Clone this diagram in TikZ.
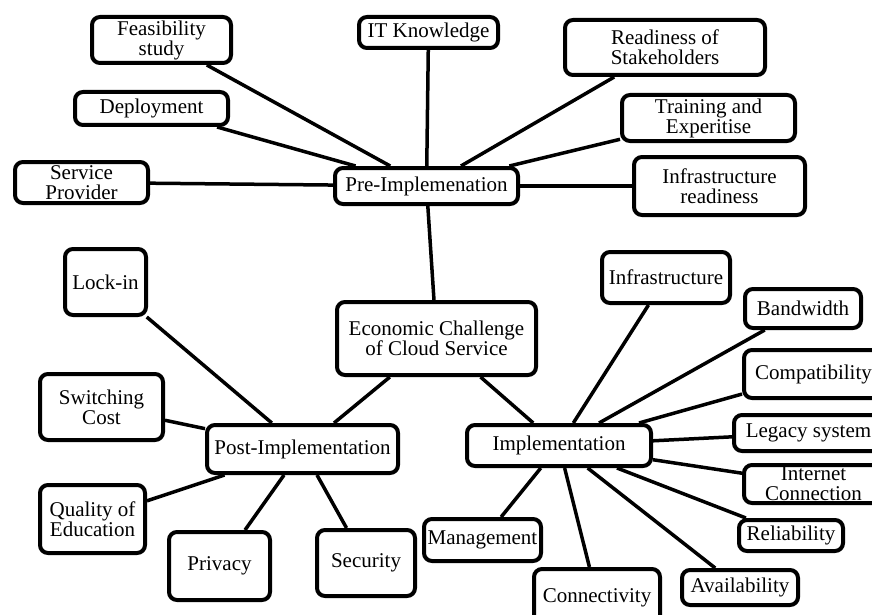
\documentclass[tikz,border=0pt]{standalone}
\usepackage{fontspec}
\setmainfont{Liberation Serif}

\begin{document}
\begin{tikzpicture}[x=1pt,y=-1pt,
  box/.style={draw,line width=4pt,rounded corners=8pt,fill=white,align=center,
    inner sep=0pt,font=\fontsize{21}{20}\selectfont},
  link/.style={line width=3.5pt}]
  \path[use as bounding box,clip] (0,0) rectangle (872,615);
  % pre-implementation group
  \node[box,minimum width=183pt,minimum height=36pt] (pre) at (426.5,186) {Pre-Implemenation};
  \node[box,minimum width=139pt,minimum height=46pt] (feas) at (161.5,40) {Feasibility\\study};
  \node[box,minimum width=153pt,minimum height=33pt] (deploy) at (151.5,108.5) {Deployment};
  \node[box,minimum width=133pt,minimum height=41pt] (provider) at (81.5,182.5) {Service\\Provider};
  \node[box,minimum width=139pt,minimum height=31pt] (itknow) at (428.5,32.5) {IT Knowledge};
  \node[box,minimum width=200pt,minimum height=55pt] (ready) at (665,47.5) {Readiness of\\Stakeholders};
  \node[box,minimum width=173pt,minimum height=46pt] (train) at (708.5,118) {Training and\\Experitise};
  \node[box,minimum width=171pt,minimum height=58pt] (infready) at (719.5,186) {Infrastructure\\readiness};
  % centre
  \node[box,minimum width=199pt,minimum height=73pt] (econ) at (436.5,338.5) {Economic Challenge\\of Cloud Service};
  % post-implementation group
  \node[box,minimum width=191pt,minimum height=48pt] (post) at (302.5,449) {Post-Implementation};
  \node[box,minimum width=81pt,minimum height=66pt] (lockin) at (105.5,282) {Lock-in};
  \node[box,minimum width=123pt,minimum height=66pt] (switch) at (101.5,407) {Switching\\Cost};
  \node[box,minimum width=105pt,minimum height=68pt] (quality) at (92.5,519) {Quality of\\Education};
  \node[box,minimum width=101pt,minimum height=68pt] (privacy) at (219.5,566) {Privacy};
  \node[box,minimum width=98pt,minimum height=66pt] (security) at (366,563) {Security};
  % implementation group
  \node[box,minimum width=184pt,minimum height=41pt] (impl) at (559,445.5) {Implementation};
  \node[box,minimum width=117pt,minimum height=42pt] (manage) at (482.5,540) {Management};
  \node[box,minimum width=128pt,minimum height=51pt] (infra) at (666,277.5) {Infrastructure};
  \node[box,minimum width=116pt,minimum height=39pt] (band) at (803,308.5) {Bandwidth};
  \node[box,minimum width=139pt,minimum height=48pt] (compat) at (813.5,374) {Compatibility};
  \node[box,minimum width=149pt,minimum height=36pt] (legacy) at (808.5,433) {Legacy system};
  \node[box,minimum width=139pt,minimum height=38pt] (internet) at (813.5,484) {Internet\\Connection};
  \node[box,minimum width=104pt,minimum height=31pt] (reliab) at (791,535.5) {Reliability};
  \node[box,minimum width=126pt,minimum height=57pt] (connect) at (597,597.5) {Connectivity};
  \node[box,minimum width=116pt,minimum height=35pt] (avail) at (740,587.5) {Availability};
  % connectors
  \foreach \n in {feas,deploy,provider,itknow,ready,train,infready,econ}
    \draw[link] (pre) -- (\n);
  \draw[link] (econ) -- (post);
  \draw[link] (econ) -- (impl);
  \foreach \n in {lockin,switch,quality,privacy,security}
    \draw[link] (post) -- (\n);
  \foreach \n in {manage,infra,band,compat,legacy,internet,reliab,connect,avail}
    \draw[link] (impl) -- (\n);
\end{tikzpicture}
\end{document}
